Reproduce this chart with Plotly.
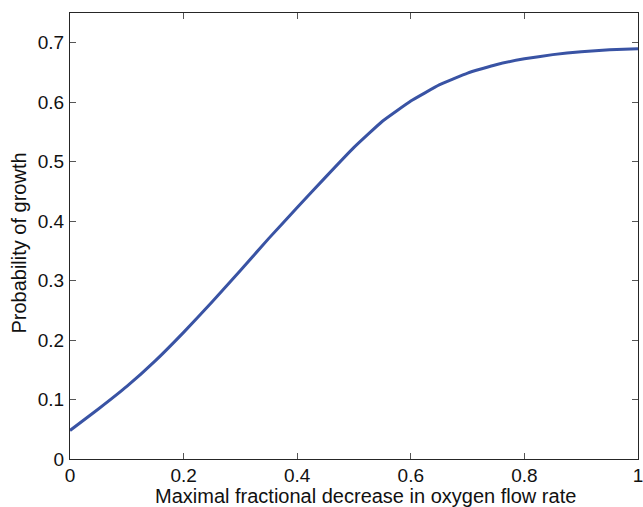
import plotly.graph_objects as go

x_vals = [0.0, 0.05, 0.10, 0.15, 0.20, 0.25, 0.30, 0.35, 0.40, 0.45, 0.50,
          0.55, 0.60, 0.65, 0.70, 0.75, 0.80, 0.85, 0.90, 0.95, 1.00]
y_vals = [0.048, 0.084, 0.122, 0.165, 0.213, 0.264, 0.317, 0.371, 0.423, 0.474, 0.524,
          0.568, 0.602, 0.629, 0.649, 0.663, 0.673, 0.680, 0.685, 0.688, 0.690]
x_ticks = [0, 0.2, 0.4, 0.6, 0.8, 1]
x_ticklabels = ["0", "0.2", "0.4", "0.6", "0.8", "1"]
y_ticks = [0, 0.1, 0.2, 0.3, 0.4, 0.5, 0.6, 0.7]
y_ticklabels = ["0", "0.1", "0.2", "0.3", "0.4", "0.5", "0.6", "0.7"]
x_title = "Maximal fractional decrease in oxygen flow rate"
y_title = "Probability of growth"

font_family = "Liberation Sans, Arial, sans-serif"
axis_color = "#262626"
tick_size = 19
title_size = 20

fig = go.Figure()
fig.add_trace(go.Scatter(
    x=x_vals, y=y_vals, mode="lines",
    line=dict(color="#3953A4", width=3, shape="spline", smoothing=0.3),
    hoverinfo="skip", showlegend=False, cliponaxis=False,
))

axis_common = dict(
    showgrid=False, zeroline=False, showline=True, linecolor=axis_color, linewidth=1.3,
    mirror="ticks", ticks="inside", ticklen=6, tickwidth=1, tickcolor="#555555",
    tickfont=dict(family=font_family, size=tick_size, color="#111111"),
    ticklabeloverflow="allow",
)

fig.update_xaxes(range=[0, 1.0], tickvals=x_ticks, ticktext=x_ticklabels,
                 ticklabelstandoff=-1, **axis_common)
fig.update_yaxes(range=[0, 0.75], tickvals=y_ticks, ticktext=y_ticklabels,
                 ticklabelstandoff=1, **axis_common)

fig.add_annotation(text=x_title, xref="paper", yref="paper", x=0.52, y=-0.111,
                   xanchor="center", yanchor="bottom", showarrow=False,
                   font=dict(family=font_family, size=title_size, color="#111111"))
fig.add_annotation(text=y_title, xref="paper", yref="paper", x=-0.089, y=0.484,
                   xanchor="center", yanchor="middle", showarrow=False, textangle=-90,
                   font=dict(family=font_family, size=title_size, color="#111111"))

fig.update_layout(
    width=643, height=507,
    margin=dict(l=70, r=0, t=13, b=48),
    paper_bgcolor="white", plot_bgcolor="white",
)

fig.write_html("out.html")
